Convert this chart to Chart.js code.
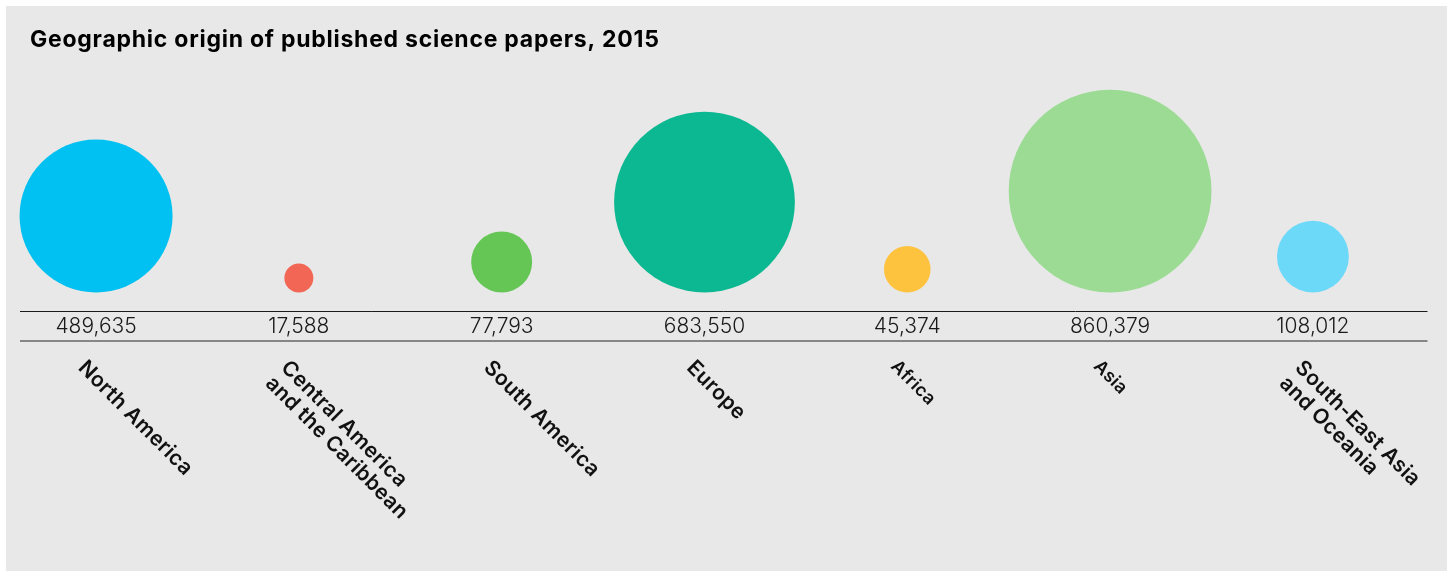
<!DOCTYPE html>
<html>
<head>
<meta charset="utf-8">
<script src="https://cdn.jsdelivr.net/npm/chart.js@4/dist/chart.umd.min.js"></script>
<style>
  html, body { margin: 0; padding: 0; background: #ffffff; }
  #panel {
    position: absolute; left: 6px; top: 6px; width: 1441px; height: 565px;
    background: #e8e8e8;
  }
  #wrap { position: absolute; left: 0; top: 0; width: 1447px; height: 571px; }
</style>
</head>
<body>
<div id="panel"></div>
<div id="wrap"><canvas id="bubbleChart"></canvas></div>
<script>
// Data
const chartTitle = "Geographic origin of published science papers, 2015";
const regions = [
  ["North America"],
  ["Central America", "and the Caribbean"],
  ["South America"],
  ["Europe"],
  ["Africa"],
  ["Asia"],
  ["South-East Asia", "and Oceania"],
];
const papers = [489635, 17588, 77793, 683550, 45374, 860379, 108012];
const colors = ["#00c1f1", "#f26656", "#65c656", "#0bb891", "#fdc33f", "#9bdb93", "#6dd9f8"];

// label font sizes (Africa / Asia are set smaller in the original)
const labelSizes = [21, 21, 21, 21, 18, 18, 21];

// biggest bubble radius in px; the plot area is exactly one biggest-bubble tall
const maxBubble = 101.4;
const maxRoot = Math.sqrt(Math.max(...papers));

// Title, table rows and rotated labels
const tablePlugin = {
  id: "tableRows",
  afterDatasetsDraw(chart) {
    const { ctx, chartArea, scales } = chart;
    const x = scales.x;
    const left = chartArea.left, right = chartArea.right;

    ctx.save();
    // title
    ctx.fillStyle = "#000000";
    ctx.font = "700 23px Inter, sans-serif";
    ctx.letterSpacing = "0.75px";
    ctx.textAlign = "left";
    ctx.textBaseline = "alphabetic";
    ctx.fillText(chartTitle, 30, 47);
    ctx.letterSpacing = "0px";

    // rules
    ctx.strokeStyle = "#1a1a1a";
    ctx.lineWidth = 1;
    ctx.beginPath();
    ctx.moveTo(left, 311.5);
    ctx.lineTo(right, 311.5);
    ctx.stroke();
    ctx.strokeStyle = "#666666";
    ctx.lineWidth = 1.5;
    ctx.beginPath();
    ctx.moveTo(left, 341);
    ctx.lineTo(right, 341);
    ctx.stroke();

    // values
    ctx.fillStyle = "#1a1a1a";
    ctx.font = "300 21px Inter, sans-serif";
    ctx.textAlign = "center";
    ctx.textBaseline = "middle";
    papers.forEach((v, i) => {
      ctx.fillText(v.toLocaleString("en-US"), x.getPixelForValue(i), 327);
    });

    // rotated region labels
    const ang = Math.PI / 4;
    regions.forEach((lines, i) => {
      const size = labelSizes[i];
      const cap = size * 0.73;
      const cx = x.getPixelForValue(i);
      // top corner of the first capital sits near (cx - 8, 358)
      const ox = cx - 8 - Math.sin(ang) * cap;
      const oy = 358 + Math.cos(ang) * cap;
      ctx.save();
      ctx.translate(ox, oy);
      ctx.rotate(ang);
      ctx.font = "600 " + size + "px Inter, sans-serif";
      ctx.letterSpacing = "0.3px";
      ctx.fillStyle = "#111111";
      ctx.textAlign = "left";
      ctx.textBaseline = "alphabetic";
      lines.forEach((line, j) => {
        ctx.fillText(line, 0, j * 22);
      });
      ctx.restore();
    });
    ctx.restore();
  },
};

const ctx = document.getElementById("bubbleChart").getContext("2d");
new Chart(ctx, {
  type: "bubble",
  data: {
    datasets: [
      {
        // y = sqrt(value) with y axis 0..2*maxRoot, r = same sqrt in px -> bubbles rest on y = 0
        data: papers.map((v, i) => ({
          x: i,
          y: Math.sqrt(v),
          r: (Math.sqrt(v) / maxRoot) * maxBubble,
        })),
        backgroundColor: colors,
        borderWidth: 0,
        hoverRadius: 0,
        clip: false,
      },
    ],
  },
  options: {
    responsive: true,
    maintainAspectRatio: false,
    animation: false,
    events: [],
    layout: {
      autoPadding: false,
      padding: { left: 20, right: 19.5, top: 89.7, bottom: 278.5 },
    },
    plugins: {
      legend: { display: false },
      tooltip: { enabled: false },
    },
    scales: {
      x: {
        type: "linear",
        display: false,
        min: -0.375,
        max: 6.565,
      },
      y: {
        display: false,
        min: 0,
        max: 2 * maxRoot,
      },
    },
  },
  plugins: [tablePlugin],
});
</script>
</body>
</html>
